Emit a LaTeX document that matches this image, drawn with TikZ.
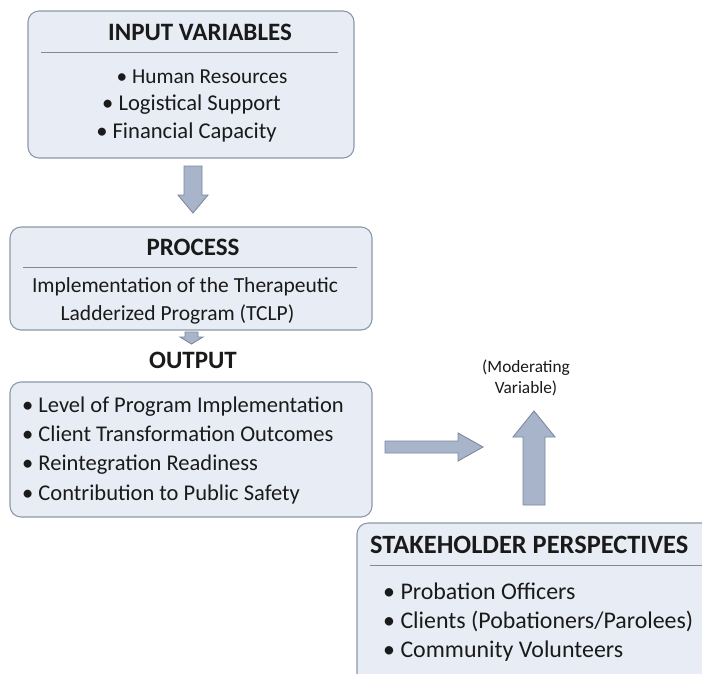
\documentclass[tikz,border=0pt]{standalone}
\usepackage{fontspec}
\setmainfont{Carlito}
\definecolor{boxfill}{HTML}{E8EDF5}
\definecolor{boxline}{HTML}{8C98AB}
\definecolor{arrfill}{HTML}{A8B4CA}
\definecolor{arrline}{HTML}{7C899F}
\definecolor{txt}{HTML}{1A1A1A}
\tikzset{
  panel/.style={draw=boxline, fill=boxfill, line width=1.1pt, rounded corners=11pt},
  sepline/.style={draw=boxline!90!black, line width=0.9pt},
  blk/.style={draw=arrline, fill=arrfill, line width=0.9pt, line join=miter},
  ttl/.style={anchor=base, inner sep=0pt, font=\fontsize{#1}{28}\selectfont\bfseries, text=txt},
  ttl/.default=25,
  itm/.style={anchor=base, inner sep=0pt, font=\fontsize{#1}{24}\selectfont, text=txt},
  itml/.style={anchor=base west, inner sep=0pt, font=\fontsize{#1}{24}\selectfont, text=txt},
  modt/.style={anchor=base, inner sep=0pt, font=\fontsize{17.3}{19}\selectfont, text=txt},
}
\begin{document}
\begin{tikzpicture}[x=1pt,y=-1pt]
\useasboundingbox (0,0) rectangle (702,673);
\fill[white] (0,0) rectangle (702,673);
\clip (0,0) rectangle (702,673);
% INPUT
\path[panel] (28,11) rectangle (354,158);
\node[ttl] (inT) at (200,40) {INPUT VARIABLES};
\draw[sepline] (41,52) -- (338,52);
\node[itm=21.3] (in1) at (202,83) {\textbullet\ Human Resources};
\node[itm=22.6] (in2) at (191.5,110) {\textbullet\ Logistical Support};
\node[itm=22.6] (in3) at (186.5,138) {\textbullet\ Financial Capacity};
% arrow 1
\draw[blk] (184,166) -- (202,166) -- (202,195) -- (208,195) -- (193,213) -- (178,195) -- (184,195) -- cycle;
% PROCESS
\path[panel] (10,227) rectangle (372,330);
\node[ttl] (prT) at (193,255) {PROCESS};
\draw[sepline] (23,267) -- (357,267);
\node[itm=21.5] (pr1) at (185,292) {Implementation of the Therapeutic};
\node[itm=21.5] (pr2) at (177.5,320) {Ladderized Program (TCLP)};
% arrow 2
\draw[blk] (185,332) -- (198,332) -- (198,337) -- (203,337) -- (191.5,344) -- (180,337) -- (185,337) -- cycle;
\node[ttl] (outT) at (193,368) {OUTPUT};
% OUTPUT
\path[panel] (10,382) rectangle (372,517);
\node[itml=22.5] (o1) at (22,412) {\textbullet\ Level of Program Implementation};
\node[itml=22.5] (o2) at (22,441) {\textbullet\ Client Transformation Outcomes};
\node[itml=22.5] (o3) at (22,470) {\textbullet\ Reintegration Readiness};
\node[itml=22.5] (o4) at (22,500) {\textbullet\ Contribution to Public Safety};
% right arrow
\draw[blk] (385,441) -- (458,441) -- (458,433) -- (483,447) -- (458,461) -- (458,453) -- (385,453) -- cycle;
% up arrow
\draw[blk] (523,505) -- (523,437) -- (513,437) -- (534,411) -- (555,437) -- (545,437) -- (545,505) -- cycle;
\node[modt] (m1) at (526,372) {(Moderating};
\node[modt] (m2) at (526,393) {Variable)};
% STAKEHOLDER
\path[panel] (357,523) rectangle (720,700);
\node[ttl=26.4, anchor=base west] (stT) at (370,553) {STAKEHOLDER PERSPECTIVES};
\draw[sepline] (370,565) -- (702,565);
\node[itml=23.9] (s1) at (383,599) {\textbullet\ Probation Officers};
\node[itml=23.9] (s2) at (383,628) {\textbullet\ Clients (Pobationers/Parolees)};
\node[itml=23.9] (s3) at (383,657) {\textbullet\ Community Volunteers};
\end{tikzpicture}
\end{document}
